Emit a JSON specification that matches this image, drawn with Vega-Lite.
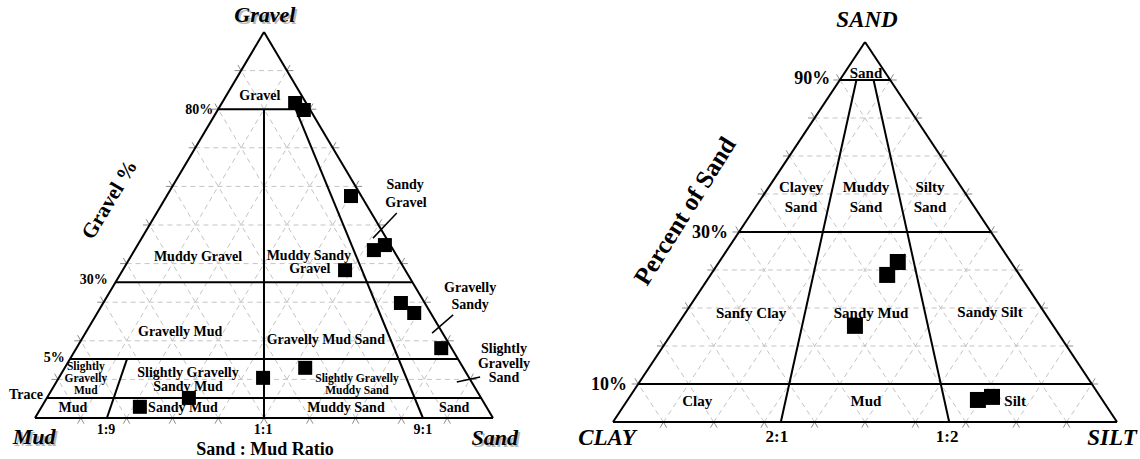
{
  "$schema": "https://vega.github.io/schema/vega-lite/v6.json",
  "padding": 0,
  "spacing": 0,
  "bounds": "flush",
  "background": "white",
  "config": {
    "view": {"stroke": null},
    "text": {"font": "Liberation Serif", "fontWeight": "bold", "color": "black", "baseline": "middle"}
  },
  "resolve": {"scale": {"x": "independent", "y": "independent", "shape": "independent"}},
  "datasets": {
    "grid": [
      {"x": 5, "y": 10, "x2": 95, "y2": 10}, {"x": 10, "y": 20, "x2": 90, "y2": 20},
      {"x": 15, "y": 30, "x2": 85, "y2": 30}, {"x": 20, "y": 40, "x2": 80, "y2": 40},
      {"x": 25, "y": 50, "x2": 75, "y2": 50}, {"x": 30, "y": 60, "x2": 70, "y2": 60},
      {"x": 35, "y": 70, "x2": 65, "y2": 70}, {"x": 40, "y": 80, "x2": 60, "y2": 80},
      {"x": 45, "y": 90, "x2": 55, "y2": 90},
      {"x": 10, "y": 0, "x2": 55, "y2": 90}, {"x": 20, "y": 0, "x2": 60, "y2": 80},
      {"x": 30, "y": 0, "x2": 65, "y2": 70}, {"x": 40, "y": 0, "x2": 70, "y2": 60},
      {"x": 50, "y": 0, "x2": 75, "y2": 50}, {"x": 60, "y": 0, "x2": 80, "y2": 40},
      {"x": 70, "y": 0, "x2": 85, "y2": 30}, {"x": 80, "y": 0, "x2": 90, "y2": 20},
      {"x": 90, "y": 0, "x2": 95, "y2": 10},
      {"x": 10, "y": 0, "x2": 5, "y2": 10}, {"x": 20, "y": 0, "x2": 10, "y2": 20},
      {"x": 30, "y": 0, "x2": 15, "y2": 30}, {"x": 40, "y": 0, "x2": 20, "y2": 40},
      {"x": 50, "y": 0, "x2": 25, "y2": 50}, {"x": 60, "y": 0, "x2": 30, "y2": 60},
      {"x": 70, "y": 0, "x2": 35, "y2": 70}, {"x": 80, "y": 0, "x2": 40, "y2": 80},
      {"x": 90, "y": 0, "x2": 45, "y2": 90}
    ],
    "ticks": [
      {"x": 10, "y": 0, "side": "b"}, {"x": 20, "y": 0, "side": "b"}, {"x": 30, "y": 0, "side": "b"},
      {"x": 40, "y": 0, "side": "b"}, {"x": 50, "y": 0, "side": "b"}, {"x": 60, "y": 0, "side": "b"},
      {"x": 70, "y": 0, "side": "b"}, {"x": 80, "y": 0, "side": "b"}, {"x": 90, "y": 0, "side": "b"},
      {"x": 5, "y": 10, "side": "l"}, {"x": 10, "y": 20, "side": "l"}, {"x": 15, "y": 30, "side": "l"},
      {"x": 20, "y": 40, "side": "l"}, {"x": 25, "y": 50, "side": "l"}, {"x": 30, "y": 60, "side": "l"},
      {"x": 35, "y": 70, "side": "l"}, {"x": 40, "y": 80, "side": "l"}, {"x": 45, "y": 90, "side": "l"},
      {"x": 95, "y": 10, "side": "r"}, {"x": 90, "y": 20, "side": "r"}, {"x": 85, "y": 30, "side": "r"},
      {"x": 80, "y": 40, "side": "r"}, {"x": 75, "y": 50, "side": "r"}, {"x": 70, "y": 60, "side": "r"},
      {"x": 65, "y": 70, "side": "r"}, {"x": 60, "y": 80, "side": "r"}, {"x": 55, "y": 90, "side": "r"}
    ],
    "folkLines": [
      {"x": 0, "y": 0, "x2": 100, "y2": 0},
      {"x": 0, "y": 0, "x2": 50, "y2": 100},
      {"x": 100, "y": 0, "x2": 50, "y2": 100},
      {"x": 40, "y": 80, "x2": 60, "y2": 80},
      {"x": 17.6, "y": 35.2, "x2": 82.4, "y2": 35.2},
      {"x": 7.65, "y": 15.3, "x2": 92.35, "y2": 15.3},
      {"x": 2.6, "y": 5.2, "x2": 97.4, "y2": 5.2},
      {"x": 50, "y": 0, "x2": 50, "y2": 80},
      {"x": 84.7, "y": 0, "x2": 56.9, "y2": 80},
      {"x": 15.7, "y": 0, "x2": 20.1, "y2": 15.3}
    ],
    "folkLeaders": [
      {"x": 79.0, "y": 53.1, "x2": 73.8, "y2": 46.6},
      {"x": 91.3, "y": 26.7, "x2": 86.7, "y2": 22.0},
      {"x": 97.2, "y": 10.6, "x2": 92.1, "y2": 9.3}
    ],
    "folkSamples": [
      {"x": 56.8, "y": 81.6}, {"x": 58.7, "y": 79.8}, {"x": 69.0, "y": 57.5},
      {"x": 74.0, "y": 43.5}, {"x": 76.4, "y": 44.8}, {"x": 67.7, "y": 38.3},
      {"x": 79.9, "y": 29.8}, {"x": 82.8, "y": 27.2}, {"x": 88.7, "y": 18.1},
      {"x": 59.0, "y": 13.0}, {"x": 49.8, "y": 10.4}, {"x": 33.6, "y": 5.2},
      {"x": 22.9, "y": 2.9}
    ],
    "folkNames": [
      {"x": 49.1, "y": 83.4, "label": "Gravel"},
      {"x": 35.6, "y": 41.7, "label": "Muddy Gravel"},
      {"x": 59.8, "y": 42.0, "label": "Muddy Sandy"},
      {"x": 60.0, "y": 38.6, "label": "Gravel"},
      {"x": 80.8, "y": 60.4, "label": "Sandy"},
      {"x": 81.0, "y": 55.7, "label": "Gravel"},
      {"x": 95.0, "y": 33.7, "label": "Gravelly"},
      {"x": 95.0, "y": 29.3, "label": "Sandy"},
      {"x": 102.4, "y": 17.9, "label": "Slightly"},
      {"x": 102.4, "y": 14.0, "label": "Gravelly"},
      {"x": 102.4, "y": 10.4, "label": "Sand"},
      {"x": 31.7, "y": 22.3, "label": "Gravelly Mud"},
      {"x": 63.5, "y": 20.2, "label": "Gravelly Mud Sand"},
      {"x": 33.4, "y": 11.7, "label": "Slightly Gravelly"},
      {"x": 33.4, "y": 8.0, "label": "Sandy Mud"},
      {"x": 8.3, "y": 2.6, "label": "Mud"},
      {"x": 32.3, "y": 2.6, "label": "Sandy Mud"},
      {"x": 67.9, "y": 2.6, "label": "Muddy Sand"},
      {"x": 91.5, "y": 2.6, "label": "Sand"}
    ],
    "folkSmallNames": [
      {"x": 11.1, "y": 13.1, "label": "Slightly"},
      {"x": 11.1, "y": 10.0, "label": "Gravelly"},
      {"x": 11.1, "y": 6.9, "label": "Mud"},
      {"x": 70.3, "y": 10.1, "label": "Slightly Gravelly"},
      {"x": 70.3, "y": 7.0, "label": "Muddy Sand"}
    ],
    "folkLevels": [
      {"x": 38.9, "y": 79.8, "label": "80%"},
      {"x": 15.9, "y": 35.8, "label": "30%"},
      {"x": 6.5, "y": 15.5, "label": "5%"},
      {"x": 1.75, "y": 6.0, "label": "Trace"}
    ],
    "folkRatios": [
      {"x": 15.5, "y": -3.1, "label": "1:9"},
      {"x": 49.8, "y": -3.1, "label": "1:1"},
      {"x": 84.7, "y": -3.1, "label": "9:1"}
    ],
    "folkVertices": [
      {"x": 50.2, "y": 104.4, "label": "Gravel"},
      {"x": -0.2, "y": -4.9, "label": "Mud"},
      {"x": 100.4, "y": -5.2, "label": "Sand"}
    ],
    "textureLines": [
      {"x": 0, "y": 0, "x2": 100, "y2": 0},
      {"x": 0, "y": 0, "x2": 50, "y2": 100},
      {"x": 100, "y": 0, "x2": 50, "y2": 100},
      {"x": 45, "y": 90, "x2": 55, "y2": 90},
      {"x": 25, "y": 50, "x2": 75, "y2": 50},
      {"x": 5, "y": 10, "x2": 95, "y2": 10},
      {"x": 33.3, "y": 0, "x2": 48.3, "y2": 90},
      {"x": 66.7, "y": 0, "x2": 51.7, "y2": 90}
    ],
    "textureSamples": [
      {"x": 56.5, "y": 42.1}, {"x": 54.4, "y": 38.7}, {"x": 48.0, "y": 25.3},
      {"x": 72.4, "y": 5.8}, {"x": 75.2, "y": 6.6}
    ],
    "textureNames": [
      {"x": 50.2, "y": 91.8, "label": "Sand"},
      {"x": 37.3, "y": 61.8, "label": "Clayey"},
      {"x": 37.3, "y": 56.6, "label": "Sand"},
      {"x": 50.2, "y": 61.8, "label": "Muddy"},
      {"x": 50.2, "y": 56.6, "label": "Sand"},
      {"x": 62.9, "y": 61.8, "label": "Silty"},
      {"x": 62.9, "y": 56.6, "label": "Sand"},
      {"x": 27.4, "y": 28.7, "label": "Sanfy Clay"},
      {"x": 51.2, "y": 28.7, "label": "Sandy Mud"},
      {"x": 74.8, "y": 28.9, "label": "Sandy Silt"},
      {"x": 16.7, "y": 5.5, "label": "Clay"},
      {"x": 50.2, "y": 5.5, "label": "Mud"},
      {"x": 79.8, "y": 5.5, "label": "Silt"}
    ],
    "textureLevels": [
      {"x": 43.1, "y": 90.3, "label": "90%"},
      {"x": 22.8, "y": 49.7, "label": "30%"},
      {"x": 2.8, "y": 9.7, "label": "10%"}
    ],
    "textureRatios": [
      {"x": 32.5, "y": -4.0, "label": "2:1"},
      {"x": 66.3, "y": -4.0, "label": "1:2"}
    ],
    "textureVertices": [
      {"x": 50.4, "y": 105.8, "label": "SAND"},
      {"x": -1.2, "y": -4.2, "label": "CLAY"},
      {"x": 99.0, "y": -4.2, "label": "SILT"}
    ]
  },
  "hconcat": [
    {
      "width": 580,
      "height": 459,
      "encoding": {
        "x": {"field": "x", "type": "quantitative", "axis": null, "scale": {"domain": [-7.642, 119.0], "nice": false, "zero": false}},
        "y": {"field": "y", "type": "quantitative", "axis": null, "scale": {"domain": [-10.62, 108.29], "nice": false, "zero": false}}
      },
      "layer": [
        {
          "data": {"name": "grid"},
          "mark": {"type": "rule", "color": "#c4c4c4", "strokeWidth": 1, "strokeDash": [5, 4]},
          "encoding": {"x2": {"field": "x2"}, "y2": {"field": "y2"}}
        },
        {
          "data": {"name": "ticks"},
          "mark": {"type": "point", "filled": false, "stroke": "#8c8c8c", "strokeWidth": 1, "size": 169, "opacity": 1},
          "encoding": {
            "shape": {"field": "side", "type": "nominal", "legend": null,
              "scale": {"domain": ["b", "l", "r"], "range": ["M-0.5,0.87L0,0L0.5,0.87", "M-1,0L0,0L-0.5,-0.87", "M1,0L0,0L0.5,-0.87"]}}
          }
        },
        {
          "data": {"name": "folkLines"},
          "mark": {"type": "rule", "color": "black", "strokeWidth": 2},
          "encoding": {"x2": {"field": "x2"}, "y2": {"field": "y2"}}
        },
        {
          "data": {"name": "folkLeaders"},
          "mark": {"type": "rule", "color": "black", "strokeWidth": 1.5},
          "encoding": {"x2": {"field": "x2"}, "y2": {"field": "y2"}}
        },
        {
          "data": {"name": "folkSamples"},
          "mark": {"type": "square", "filled": true, "color": "black", "size": 196, "opacity": 1}
        },
        {
          "data": {"name": "folkNames"},
          "mark": {"type": "text", "fontSize": 14, "align": "center"},
          "encoding": {"text": {"field": "label"}}
        },
        {
          "data": {"name": "folkSmallNames"},
          "mark": {"type": "text", "fontSize": 11.5, "align": "center"},
          "encoding": {"text": {"field": "label"}}
        },
        {
          "data": {"name": "folkLevels"},
          "mark": {"type": "text", "fontSize": 14, "align": "right"},
          "encoding": {"text": {"field": "label"}}
        },
        {
          "data": {"name": "folkRatios"},
          "mark": {"type": "text", "fontSize": 14, "align": "center"},
          "encoding": {"text": {"field": "label"}}
        },
        {
          "data": {"name": "folkVertices"},
          "mark": {"type": "text", "fontSize": 22, "fontStyle": "italic", "align": "center", "color": "#b8b8b8", "dx": 2, "dy": 2},
          "encoding": {"text": {"field": "label"}}
        },
        {
          "data": {"name": "folkVertices"},
          "mark": {"type": "text", "fontSize": 22, "fontStyle": "italic", "align": "center"},
          "encoding": {"text": {"field": "label"}}
        },
        {
          "data": {"values": [{"x": 50.2, "y": -8.3, "label": "Sand : Mud Ratio"}]},
          "mark": {"type": "text", "fontSize": 18, "align": "center"},
          "encoding": {"text": {"field": "label"}}
        },
        {
          "data": {"values": [{"x": 16.4, "y": 56.5, "label": "Gravel %"}]},
          "mark": {"type": "text", "fontSize": 21, "align": "center", "angle": 301},
          "encoding": {"text": {"field": "label"}}
        }
      ]
    },
    {
      "width": 560,
      "height": 459,
      "encoding": {
        "x": {"field": "x", "type": "quantitative", "axis": null, "scale": {"domain": [-6.548, 104.56], "nice": false, "zero": false}},
        "y": {"field": "y", "type": "quantitative", "axis": null, "scale": {"domain": [-9.737, 111.05], "nice": false, "zero": false}}
      },
      "layer": [
        {
          "data": {"name": "grid"},
          "mark": {"type": "rule", "color": "#c4c4c4", "strokeWidth": 1, "strokeDash": [5, 4]},
          "encoding": {"x2": {"field": "x2"}, "y2": {"field": "y2"}}
        },
        {
          "data": {"name": "ticks"},
          "mark": {"type": "point", "filled": false, "stroke": "#8c8c8c", "strokeWidth": 1, "size": 169, "opacity": 1},
          "encoding": {
            "shape": {"field": "side", "type": "nominal", "legend": null,
              "scale": {"domain": ["b", "l", "r"], "range": ["M-0.5,0.87L0,0L0.5,0.87", "M-1,0L0,0L-0.5,-0.87", "M1,0L0,0L0.5,-0.87"]}}
          }
        },
        {
          "data": {"name": "textureLines"},
          "mark": {"type": "rule", "color": "black", "strokeWidth": 2},
          "encoding": {"x2": {"field": "x2"}, "y2": {"field": "y2"}}
        },
        {
          "data": {"name": "textureSamples"},
          "mark": {"type": "square", "filled": true, "color": "black", "size": 256, "opacity": 1}
        },
        {
          "data": {"name": "textureNames"},
          "mark": {"type": "text", "fontSize": 15, "align": "center"},
          "encoding": {"text": {"field": "label"}}
        },
        {
          "data": {"name": "textureLevels"},
          "mark": {"type": "text", "fontSize": 18, "align": "right"},
          "encoding": {"text": {"field": "label"}}
        },
        {
          "data": {"name": "textureRatios"},
          "mark": {"type": "text", "fontSize": 17, "align": "center"},
          "encoding": {"text": {"field": "label"}}
        },
        {
          "data": {"name": "textureVertices"},
          "mark": {"type": "text", "fontSize": 23, "fontStyle": "italic", "align": "center"},
          "encoding": {"text": {"field": "label"}}
        },
        {
          "data": {"values": [{"x": 14.3, "y": 55.5, "label": "Percent  of  Sand"}]},
          "mark": {"type": "text", "fontSize": 25, "align": "center", "angle": 302},
          "encoding": {"text": {"field": "label"}}
        }
      ]
    }
  ]
}
